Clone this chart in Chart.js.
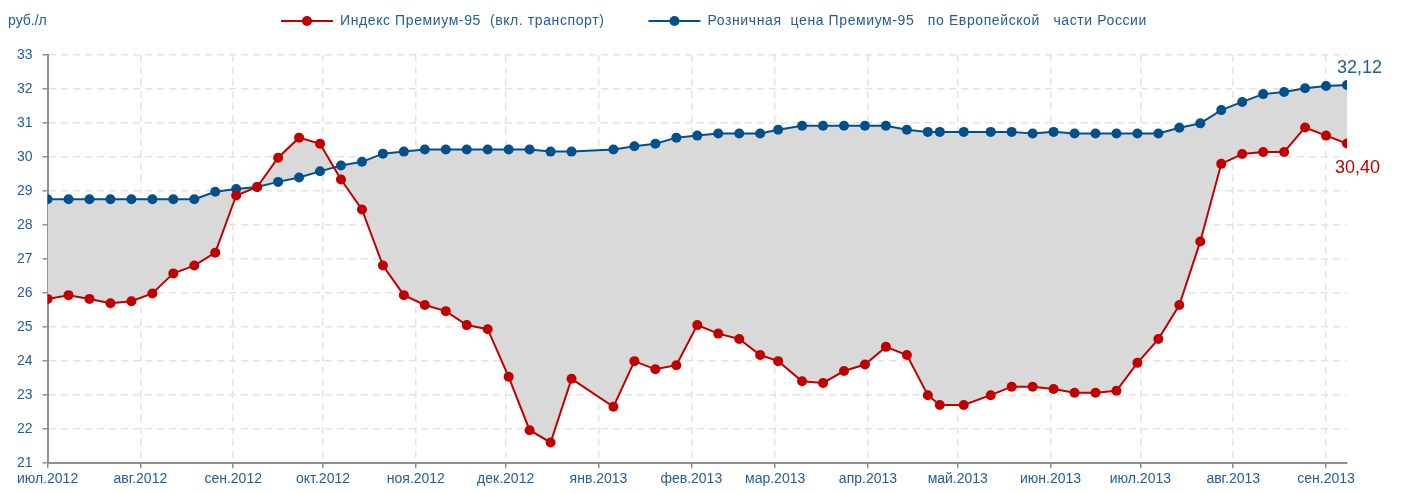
<!DOCTYPE html>
<html>
<head>
<meta charset="utf-8">
<script src="https://cdn.jsdelivr.net/npm/chart.js@4.4.0/dist/chart.umd.min.js"></script>
<style>
  html, body { margin: 0; padding: 0; background: #fff; }
</style>
</head>
<body>
<canvas id="priceChart" width="1401" height="493"></canvas>
<script>
// weekly observation dates
const dates = [
  '2012-07-01', '2012-07-08', '2012-07-15', '2012-07-22', '2012-07-29',
  '2012-08-05', '2012-08-12', '2012-08-19', '2012-08-26',
  '2012-09-02', '2012-09-09', '2012-09-16', '2012-09-23', '2012-09-30',
  '2012-10-07', '2012-10-14', '2012-10-21', '2012-10-28',
  '2012-11-04', '2012-11-11', '2012-11-18', '2012-11-25',
  '2012-12-02', '2012-12-09', '2012-12-16', '2012-12-23',
  '2013-01-06', '2013-01-13', '2013-01-20', '2013-01-27',
  '2013-02-03', '2013-02-10', '2013-02-17', '2013-02-24',
  '2013-03-02', '2013-03-10', '2013-03-17', '2013-03-24', '2013-03-31',
  '2013-04-07', '2013-04-14', '2013-04-21', '2013-04-25',
  '2013-05-03', '2013-05-12', '2013-05-19', '2013-05-26',
  '2013-06-02', '2013-06-09', '2013-06-16', '2013-06-23', '2013-06-30',
  '2013-07-07', '2013-07-14', '2013-07-21', '2013-07-28',
  '2013-08-04', '2013-08-11', '2013-08-18', '2013-08-25',
  '2013-09-01', '2013-09-08'
];

// Индекс Премиум-95 (вкл. транспорт)
const indexPrices = [
  25.83, 25.94, 25.83, 25.70, 25.76, 25.99, 26.58, 26.81, 27.19, 28.87,
  29.12, 29.98, 30.57, 30.39, 29.34, 28.46, 26.81, 25.94, 25.65, 25.47,
  25.06, 24.94, 23.54, 21.97, 21.61, 23.48, 22.66, 24.00, 23.76, 23.88,
  25.06, 24.81, 24.65, 24.18, 24.00, 23.41, 23.36, 23.71, 23.90, 24.42,
  24.18, 23.00, 22.71, 22.71, 23.00, 23.25, 23.25, 23.18, 23.07, 23.07,
  23.13, 23.95, 24.65, 25.65, 27.52, 29.80, 30.09, 30.15, 30.15, 30.87,
  30.63, 30.40
];

// Розничная цена Премиум-95 по Европейской части России
const retailPrices = [
  28.76, 28.76, 28.76, 28.76, 28.76, 28.76, 28.76, 28.76, 28.98, 29.06,
  29.12, 29.27, 29.40, 29.58, 29.75, 29.86, 30.10, 30.16, 30.22, 30.22,
  30.22, 30.22, 30.22, 30.22, 30.16, 30.16, 30.22, 30.32, 30.39, 30.57,
  30.63, 30.69, 30.69, 30.69, 30.80, 30.92, 30.92, 30.92, 30.92, 30.92,
  30.80, 30.74, 30.74, 30.74, 30.74, 30.74, 30.69, 30.74, 30.69, 30.69,
  30.69, 30.69, 30.69, 30.86, 30.99, 31.38, 31.62, 31.85, 31.91, 32.02,
  32.09, 32.12
];

const monthStarts = [
  '2012-07-01', '2012-08-01', '2012-09-01', '2012-10-01', '2012-11-01',
  '2012-12-01', '2013-01-01', '2013-02-01', '2013-03-01', '2013-04-01',
  '2013-05-01', '2013-06-01', '2013-07-01', '2013-08-01', '2013-09-01'
];
const monthLabels = [
  'июл.2012', 'авг.2012', 'сен.2012', 'окт.2012', 'ноя.2012',
  'дек.2012', 'янв.2013', 'фев.2013', 'мар.2013', 'апр.2013',
  'май.2013', 'июн.2013', 'июл.2013', 'авг.2013', 'сен.2013'
];

const seriesNames = [
  'Индекс Премиум-95  (вкл. транспорт)',
  'Розничная  цена Премиум-95   по Европейской   части России'
];
const endLabels = ['30,40', '32,12'];
const unitLabel = 'руб./л';

const RED = '#c00000';
const BLUE = '#00508c';
const TEXT_BLUE = '#215e9c';
const FILL_GRAY = '#d9d9d9';
const GRID_GRAY = '#e3e3e3';
const AXIS_GRAY = '#8f8f8f';
const FONT_FAMILY = '"Liberation Sans", Arial, sans-serif';

// days since 1 July 2012
const origin = Date.UTC(2012, 6, 1);
function dayOf(s) {
  return (new Date(s + 'T00:00:00Z').getTime() - origin) / 86400000;
}
const monthDays = monthStarts.map(dayOf);

function points(values) {
  return dates.map((d, i) => ({ x: dayOf(d), y: values[i] }));
}

// legend row and unit label at the top
const topLegend = {
  id: 'topLegend',
  afterDraw(chart) {
    const c = chart.ctx;
    const y = 21;
    c.save();
    c.font = '14px ' + FONT_FAMILY;
    c.textBaseline = 'middle';
    c.fillStyle = TEXT_BLUE;
    c.fillText(unitLabel, 8, y);
    c.letterSpacing = '0.6px';
    let x = 281;
    chart.data.datasets.forEach(ds => {
      c.strokeStyle = ds.borderColor;
      c.lineWidth = 2;
      c.beginPath();
      c.moveTo(x, y);
      c.lineTo(x + 52, y);
      c.stroke();
      c.fillStyle = ds.borderColor;
      c.beginPath();
      c.arc(x + 26, y, 5, 0, Math.PI * 2);
      c.fill();
      c.fillStyle = TEXT_BLUE;
      c.fillText(ds.label, x + 59, y);
      x += 59 + c.measureText(ds.label).width + 44;
    });
    c.restore();
  }
};

// value labels next to the last points
const endValues = {
  id: 'endValues',
  afterDatasetsDraw(chart) {
    const c = chart.ctx;
    c.save();
    c.font = '18px ' + FONT_FAMILY;
    c.textAlign = 'left';
    chart.data.datasets.forEach((ds, i) => {
      const pt = chart.getDatasetMeta(i).data.at(-1);
      c.fillStyle = i === 0 ? RED : TEXT_BLUE;
      if (i === 0) {
        c.textBaseline = 'top';
        c.fillText(endLabels[i], pt.x - 12, pt.y + 16);
      } else {
        c.textBaseline = 'bottom';
        c.fillText(endLabels[i], pt.x - 10, pt.y - 8);
      }
    });
    c.restore();
  }
};

const tickFont = { family: FONT_FAMILY, size: 14 };

const chart = new Chart(document.getElementById('priceChart'), {
  type: 'line',
  data: {
    datasets: [
      {
        label: seriesNames[0],
        data: points(indexPrices),
        borderColor: RED,
        backgroundColor: FILL_GRAY,
        pointBackgroundColor: RED,
        pointBorderColor: RED,
        pointRadius: 5,
        pointBorderWidth: 0,
        borderWidth: 2,
        fill: { target: '+1', above: FILL_GRAY, below: FILL_GRAY }
      },
      {
        label: seriesNames[1],
        data: points(retailPrices),
        borderColor: BLUE,
        backgroundColor: BLUE,
        pointBackgroundColor: BLUE,
        pointBorderColor: BLUE,
        pointRadius: 5,
        pointBorderWidth: 0,
        borderWidth: 2,
        fill: false
      }
    ]
  },
  options: {
    responsive: false,
    animation: false,
    layout: { padding: { left: 7, right: 54, top: 55, bottom: 2 } },
    plugins: {
      legend: { display: false },
      tooltip: { enabled: false },
      filler: { drawTime: 'beforeDatasetsDraw' }
    },
    scales: {
      x: {
        type: 'linear',
        min: 0,
        max: dayOf(dates[dates.length - 1]),
        afterBuildTicks: axis => {
          axis.ticks = monthDays.map(v => ({ value: v }));
        },
        ticks: {
          autoSkip: false,
          maxRotation: 0,
          padding: 3,
          color: TEXT_BLUE,
          font: tickFont,
          callback: v => monthLabels[monthDays.indexOf(v)]
        },
        grid: {
          color: GRID_GRAY,
          lineWidth: 1.5,
          tickLength: 5,
          tickColor: AXIS_GRAY,
          tickWidth: 1.5,
          tickBorderDash: []
        },
        border: { color: AXIS_GRAY, width: 2, dash: [7, 5] }
      },
      y: {
        min: 21,
        max: 33,
        ticks: {
          stepSize: 1,
          padding: 10,
          color: TEXT_BLUE,
          font: tickFont
        },
        grid: {
          color: GRID_GRAY,
          lineWidth: 1.5,
          tickLength: 5,
          tickColor: AXIS_GRAY,
          tickWidth: 1.5,
          tickBorderDash: []
        },
        border: { color: AXIS_GRAY, width: 2, dash: [7, 5] }
      }
    }
  },
  plugins: [topLegend, endValues]
});
</script>
</body>
</html>
